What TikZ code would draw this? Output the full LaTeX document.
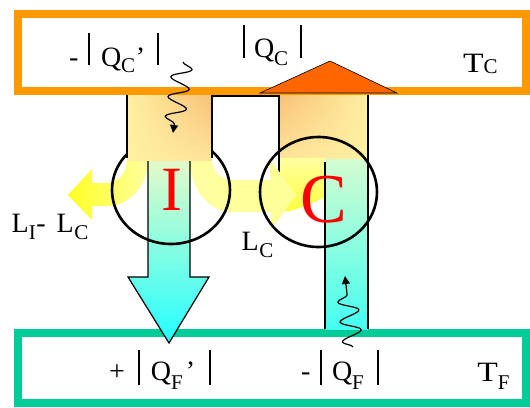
\documentclass[tikz,border=0pt]{standalone}
\usepackage{fontspec}
\setmainfont{Liberation Serif}
\usetikzlibrary{arrows.meta,decorations.pathmorphing,shapes.geometric,shadings}
\definecolor{hotframe}{HTML}{FF9900}
\definecolor{coldframe}{HTML}{00CC99}
\definecolor{heatup}{HTML}{FF6600}
\definecolor{redlet}{HTML}{FF0000}
\definecolor{yelA}{HTML}{FFFF22}
\definecolor{yelB}{HTML}{FFFFA0}
\definecolor{yelC}{HTML}{FFFF99}
\definecolor{yelD}{HTML}{FFFF40}
\definecolor{colOr}{HTML}{F8C078}
\definecolor{colYl}{HTML}{FFF0A0}
\definecolor{colYm}{HTML}{FDE49A}
\definecolor{cyTop}{HTML}{E4FAC8}
\definecolor{cyBot}{HTML}{22FFFF}
\definecolor{cyTopC}{HTML}{D4FCD0}
\definecolor{cyBotC}{HTML}{44FFF0}
\newcommand\sbs[2][6pt]{\raisebox{-#1}{\fontsize{21}{21}\selectfont #2}}
\newcommand\vbar[2]{\rule[#1]{2pt}{#2}}
\newcommand\wideT{\scalebox{1.2}[1]{T}}
\tikzset{
 frame/.style={line width=8pt, fill=white},
 lbl/.style={anchor=base west, inner sep=0pt, outer sep=0pt, font=\fontsize{28}{30}\selectfont},
 big/.style={anchor=base, inner sep=0pt, text=redlet},
 ring/.style={draw=black, line width=2.6pt, ellipse, inner sep=0pt},
 edgeline/.style={line width=1.2pt, draw=black},
 wavy/.style={line width=1.2pt, decorate, decoration={snake, amplitude=10pt, segment length=20pt, post length=9pt}, -{Triangle[length=8pt,width=8pt]}},
}
\begin{document}
\begin{tikzpicture}[x=1pt,y=-1pt]
\useasboundingbox (0,0) rectangle (530,407);
% reservoirs
\draw[frame, draw=hotframe] (18,14) rectangle (526,91);
\draw[frame, draw=coldframe] (18,333) rectangle (526,403);
% left yellow bent arrow
\shade[left color=yelA, right color=yelB] (127,160) arc[start angle=0, end angle=90, x radius=20, y radius=23] -- (92,183) -- (92,169) -- (68,195) -- (92,220) -- (92,206) -- (107,206) arc[start angle=90, end angle=0, x radius=41, y radius=46] -- cycle;
% right yellow bent band towards C
\shade[left color=yelB, right color=yelC] (190,160) arc[start angle=180, end angle=90, x radius=42, y radius=52] -- (272,212) -- (272,180) -- (232,180) arc[start angle=90, end angle=180, x radius=20, y radius=20] -- cycle;
% cyan arrow from I
\shade[top color=cyTop, bottom color=cyBot] (148,160) -- (148,277) -- (128,277) -- (169,343) -- (209,277) -- (190,277) -- (190,160) -- cycle;
\draw[edgeline] (148,160) -- (148,277) -- (128,277) -- (169,343) -- (209,277) -- (190,277) -- (190,160);
% circle I
\node[ring, minimum width=118pt, minimum height=108pt] (engI) at (171,190) {};
% columns from the hot reservoir
\shade[upper left=colYl, upper right=colOr, lower left=colYl, lower right=colYm] (127,95) rectangle (212,160);
\shade[upper left=colOr, upper right=colYl, lower left=colYm, lower right=colYl] (279,95) rectangle (368,158);
% yellow region inside C
\shade[top color=yelB, bottom color=yelD] (279,158) -- (325,158) -- (325,197) .. controls (312,204) and (300,208) .. (290,211) -- (279,211) -- cycle;
% outlines
\draw[edgeline] (127,158) -- (127,95);
\draw[edgeline] (212,158) -- (212,96) -- (279,96) -- (279,178);
\draw[edgeline] (368,95) -- (368,158);
% arrow head into C
\fill[yelC] (270,159) -- (296,195) -- (271,230) -- cycle;
% cyan column of C
\shade[top color=cyTopC, bottom color=cyBotC] (325,159) rectangle (368,329);
\draw[edgeline] (325,162) -- (325,329);
\draw[edgeline] (368,157) -- (368,329);
% circle C
\node[ring, minimum width=117pt, minimum height=110pt] (engC) at (318.5,192) {};
% up arrow head into hot reservoir
\filldraw[fill=heatup, draw=black, line width=0.6pt] (260,93) -- (397,93) -- (330,61) -- cycle;
% wavy arrows
\coordinate (wq1) at (183,62);
\coordinate (wq2) at (173,133);
\draw[wavy] (wq1) -- (wq2);
\coordinate (wf1) at (353,347);
\coordinate (wf2) at (345,276);
\draw[wavy] (wf1) -- (wf2);
% labels
\node[lbl] (qcp) at (69,66) {-\kern9.7pt\vbar{1pt}{32pt}\kern11pt Q\sbs[6pt]{C}\kern0.6pt'\kern11.9pt\vbar{1pt}{32pt}};
\node[lbl] (qc) at (243,57) {\vbar{-1pt}{33pt}\kern9pt Q\sbs[8pt]{C}\kern11.8pt\vbar{-1pt}{33pt}};
\node[lbl] (tc) at (463,72.5) {\wideT\sbs[1pt]{C}};
\node[lbl] (qfp) at (109.2,380) {+\kern13pt\vbar{-5pt}{35pt}\kern11pt Q\sbs[9pt]{F}\kern2.9pt'\kern13.8pt\vbar{-5pt}{35pt}};
\node[lbl] (qf) at (301,380) {-\kern9.7pt\vbar{-5pt}{35pt}\kern10pt Q\sbs[9pt]{F}\kern13.1pt\vbar{-5pt}{35pt}};
\node[lbl] (tf) at (477.4,381) {\wideT\sbs[8.5pt]{F}};
\node[lbl] (lic) at (11.7,232) {L\sbs[7pt]{I}\kern0.5pt-\kern11.1pt L\kern0.6pt\sbs[7pt]{C}};
\node[lbl] (lc) at (241.7,250) {L\kern0.6pt\sbs[7pt]{C}};
\node[big, font=\fontsize{63}{63}\selectfont] (li) at (171.5,210) {I};
\node[big, font=\fontsize{70}{70}\selectfont] (lcc) at (324,222) {C};
\end{tikzpicture}
\end{document}
